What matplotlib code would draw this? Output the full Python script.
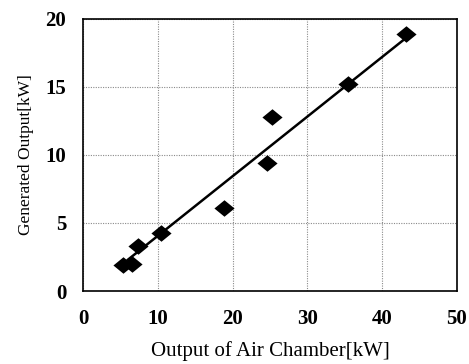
import matplotlib.pyplot as plt

# measured points: air chamber output vs generated output (kW)
air_kw = [5.3, 6.6, 7.3, 10.4, 18.9, 24.6, 25.3, 35.5, 43.2]
gen_kw = [1.9, 2.0, 3.3, 4.3, 6.1, 9.4, 12.8, 15.2, 18.9]

# straight-line fit drawn through the data
fit_x = [6.0, 43.2]
fit_y = [2.3, 18.6]

x_ticks = [0, 10, 20, 30, 40, 50]
y_ticks = [0, 5, 10, 15, 20]

plt.rcParams['font.family'] = ['Liberation Serif', 'DejaVu Serif']

# slightly flattened diamond
diamond = [(-1, 0), (0, 0.82), (1, 0), (0, -0.82), (-1, 0)]

fig = plt.figure(figsize=(4.69, 3.64), dpi=100)
ax = fig.add_axes([0.177, 0.2005, 0.797, 0.7475])

ax.grid(True, color='#8a8a8a', linestyle=(0, (1, 1.2)), linewidth=0.8)
ax.set_axisbelow(True)

ax.plot(fit_x, fit_y, color='black', linewidth=1.8, zorder=3)
ax.plot(air_kw, gen_kw, linestyle='none', marker=diamond, markersize=14.5,
        color='black', markeredgewidth=0, zorder=4)

ax.set_xlim(0, 50)
ax.set_ylim(0, 20)
ax.set_xticks(x_ticks)
ax.set_yticks(y_ticks)
ax.tick_params(length=0, labelsize=15)
ax.tick_params(axis='x', pad=13)
ax.tick_params(axis='y', pad=12)
for lbl in ax.get_xticklabels() + ax.get_yticklabels():
    lbl.set_fontweight('bold')

for sp in ax.spines.values():
    sp.set_linewidth(1.2)
    sp.set_color('black')

ax.set_xlabel('Output of Air Chamber[kW]', fontsize=15, labelpad=9)
ax.set_ylabel('Generated Output[kW]', fontsize=12.5, labelpad=8)

fig.savefig('out.png', dpi=100)
